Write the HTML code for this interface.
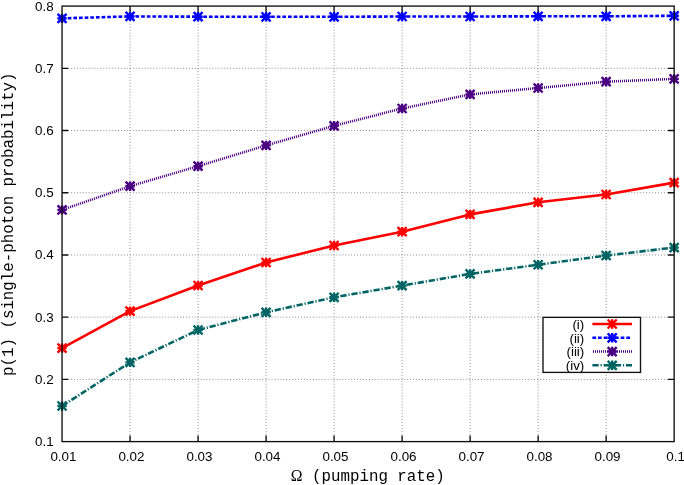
<!DOCTYPE html>
<html><head><meta charset="utf-8"><title>plot</title>
<style>
html,body{margin:0;padding:0;background:#fff;}
body{width:684px;height:485px;overflow:hidden;position:relative;font-family:"Liberation Sans",sans-serif;}
svg{position:absolute;left:0;top:0;display:block;will-change:transform;}
text{font-family:"Liberation Sans",sans-serif;font-size:13.4px;fill:#000;}
.mono{font-family:"Liberation Mono",monospace;font-size:15.8px;}
.ser{font-family:"Liberation Serif",serif;font-size:15.8px;}
</style></head><body>
<svg width="684" height="485" viewBox="0 0 684 485">
<rect x="0" y="0" width="684" height="485" fill="#ffffff"/>

<g stroke="#8c8c8c" stroke-width="1" stroke-dasharray="1 1.95" fill="none">
<path d="M130.06 6.10V441.60"/>
<path d="M198.07 6.10V441.60"/>
<path d="M266.08 6.10V441.60"/>
<path d="M334.09 6.10V441.60"/>
<path d="M402.11 6.10V441.60"/>
<path d="M470.12 6.10V441.60"/>
<path d="M538.13 6.10V441.60"/>
<path d="M606.14 6.10V441.60"/>
<path d="M62.05 68.31H674.15"/>
<path d="M62.05 130.53H674.15"/>
<path d="M62.05 192.74H674.15"/>
<path d="M62.05 254.96H674.15"/>
<path d="M62.05 317.17H674.15"/>
<path d="M62.05 379.39H674.15"/>
</g>
<text x="53.6" y="10.60" text-anchor="end">0.8</text>
<text x="53.6" y="72.81" text-anchor="end">0.7</text>
<text x="53.6" y="135.03" text-anchor="end">0.6</text>
<text x="53.6" y="197.24" text-anchor="end">0.5</text>
<text x="53.6" y="259.46" text-anchor="end">0.4</text>
<text x="53.6" y="321.67" text-anchor="end">0.3</text>
<text x="53.6" y="383.89" text-anchor="end">0.2</text>
<text x="53.6" y="446.10" text-anchor="end">0.1</text>
<text x="63.45" y="460.5" text-anchor="middle">0.01</text>
<text x="131.46" y="460.5" text-anchor="middle">0.02</text>
<text x="199.47" y="460.5" text-anchor="middle">0.03</text>
<text x="267.48" y="460.5" text-anchor="middle">0.04</text>
<text x="335.49" y="460.5" text-anchor="middle">0.05</text>
<text x="403.51" y="460.5" text-anchor="middle">0.06</text>
<text x="471.52" y="460.5" text-anchor="middle">0.07</text>
<text x="539.53" y="460.5" text-anchor="middle">0.08</text>
<text x="607.54" y="460.5" text-anchor="middle">0.09</text>
<text x="675.55" y="460.5" text-anchor="middle">0.1</text>
<text x="290.8" y="481" class="mono" style="white-space:pre"><tspan class="ser">&#937;</tspan> (pumping rate)</text>
<text class="mono" transform="translate(13.0 224.3) rotate(-90)" text-anchor="middle">p(1) (single-photon probability)</text>
<polyline points="62.05,348.10 130.06,311.10 198.07,285.50 266.08,262.50 334.09,245.50 402.11,231.70 470.12,214.40 538.13,202.30 606.14,194.50 674.15,182.60" fill="none" stroke="#ff0000" stroke-width="2.6" stroke-linejoin="round"/>
<path d="M57.55 343.60L66.55 352.60M57.55 352.60L66.55 343.60M62.05 343.40L62.05 352.80M57.35 348.10L66.75 348.10" stroke="#ff0000" stroke-width="2.4" stroke-linecap="butt" fill="none"/>
<path d="M125.56 306.60L134.56 315.60M125.56 315.60L134.56 306.60M130.06 306.40L130.06 315.80M125.36 311.10L134.76 311.10" stroke="#ff0000" stroke-width="2.4" stroke-linecap="butt" fill="none"/>
<path d="M193.57 281.00L202.57 290.00M193.57 290.00L202.57 281.00M198.07 280.80L198.07 290.20M193.37 285.50L202.77 285.50" stroke="#ff0000" stroke-width="2.4" stroke-linecap="butt" fill="none"/>
<path d="M261.58 258.00L270.58 267.00M261.58 267.00L270.58 258.00M266.08 257.80L266.08 267.20M261.38 262.50L270.78 262.50" stroke="#ff0000" stroke-width="2.4" stroke-linecap="butt" fill="none"/>
<path d="M329.59 241.00L338.59 250.00M329.59 250.00L338.59 241.00M334.09 240.80L334.09 250.20M329.39 245.50L338.79 245.50" stroke="#ff0000" stroke-width="2.4" stroke-linecap="butt" fill="none"/>
<path d="M397.61 227.20L406.61 236.20M397.61 236.20L406.61 227.20M402.11 227.00L402.11 236.40M397.41 231.70L406.81 231.70" stroke="#ff0000" stroke-width="2.4" stroke-linecap="butt" fill="none"/>
<path d="M465.62 209.90L474.62 218.90M465.62 218.90L474.62 209.90M470.12 209.70L470.12 219.10M465.42 214.40L474.82 214.40" stroke="#ff0000" stroke-width="2.4" stroke-linecap="butt" fill="none"/>
<path d="M533.63 197.80L542.63 206.80M533.63 206.80L542.63 197.80M538.13 197.60L538.13 207.00M533.43 202.30L542.83 202.30" stroke="#ff0000" stroke-width="2.4" stroke-linecap="butt" fill="none"/>
<path d="M601.64 190.00L610.64 199.00M601.64 199.00L610.64 190.00M606.14 189.80L606.14 199.20M601.44 194.50L610.84 194.50" stroke="#ff0000" stroke-width="2.4" stroke-linecap="butt" fill="none"/>
<path d="M669.65 178.10L678.65 187.10M669.65 187.10L678.65 178.10M674.15 177.90L674.15 187.30M669.45 182.60L678.85 182.60" stroke="#ff0000" stroke-width="2.4" stroke-linecap="butt" fill="none"/>
<polyline points="62.05,18.35 130.06,16.40 198.07,16.70 266.08,16.80 334.09,16.80 402.11,16.50 470.12,16.50 538.13,16.30 606.14,16.30 674.15,15.80" fill="none" stroke="#0000ff" stroke-width="2.6" stroke-linejoin="round" stroke-dasharray="3.7 1.95"/>
<path d="M57.55 13.85L66.55 22.85M57.55 22.85L66.55 13.85M62.05 13.65L62.05 23.05M57.35 18.35L66.75 18.35" stroke="#0000ff" stroke-width="2.4" stroke-linecap="butt" fill="none"/>
<path d="M125.56 11.90L134.56 20.90M125.56 20.90L134.56 11.90M130.06 11.70L130.06 21.10M125.36 16.40L134.76 16.40" stroke="#0000ff" stroke-width="2.4" stroke-linecap="butt" fill="none"/>
<path d="M193.57 12.20L202.57 21.20M193.57 21.20L202.57 12.20M198.07 12.00L198.07 21.40M193.37 16.70L202.77 16.70" stroke="#0000ff" stroke-width="2.4" stroke-linecap="butt" fill="none"/>
<path d="M261.58 12.30L270.58 21.30M261.58 21.30L270.58 12.30M266.08 12.10L266.08 21.50M261.38 16.80L270.78 16.80" stroke="#0000ff" stroke-width="2.4" stroke-linecap="butt" fill="none"/>
<path d="M329.59 12.30L338.59 21.30M329.59 21.30L338.59 12.30M334.09 12.10L334.09 21.50M329.39 16.80L338.79 16.80" stroke="#0000ff" stroke-width="2.4" stroke-linecap="butt" fill="none"/>
<path d="M397.61 12.00L406.61 21.00M397.61 21.00L406.61 12.00M402.11 11.80L402.11 21.20M397.41 16.50L406.81 16.50" stroke="#0000ff" stroke-width="2.4" stroke-linecap="butt" fill="none"/>
<path d="M465.62 12.00L474.62 21.00M465.62 21.00L474.62 12.00M470.12 11.80L470.12 21.20M465.42 16.50L474.82 16.50" stroke="#0000ff" stroke-width="2.4" stroke-linecap="butt" fill="none"/>
<path d="M533.63 11.80L542.63 20.80M533.63 20.80L542.63 11.80M538.13 11.60L538.13 21.00M533.43 16.30L542.83 16.30" stroke="#0000ff" stroke-width="2.4" stroke-linecap="butt" fill="none"/>
<path d="M601.64 11.80L610.64 20.80M601.64 20.80L610.64 11.80M606.14 11.60L606.14 21.00M601.44 16.30L610.84 16.30" stroke="#0000ff" stroke-width="2.4" stroke-linecap="butt" fill="none"/>
<path d="M669.65 11.30L678.65 20.30M669.65 20.30L678.65 11.30M674.15 11.10L674.15 20.50M669.45 15.80L678.85 15.80" stroke="#0000ff" stroke-width="2.4" stroke-linecap="butt" fill="none"/>
<line x1="62.05" y1="209.90" x2="130.06" y2="186.20" stroke="#4b0082" stroke-width="2.6" stroke-dasharray="1.0590 1.0590" stroke-dashoffset="0.0529"/>
<line x1="130.06" y1="186.20" x2="198.07" y2="166.20" stroke="#4b0082" stroke-width="2.6" stroke-dasharray="1.0423 1.0423" stroke-dashoffset="0.0637"/>
<line x1="198.07" y1="166.20" x2="266.08" y2="145.40" stroke="#4b0082" stroke-width="2.6" stroke-dasharray="1.0457 1.0457" stroke-dashoffset="0.0755"/>
<line x1="266.08" y1="145.40" x2="334.09" y2="125.80" stroke="#4b0082" stroke-width="2.6" stroke-dasharray="1.0407 1.0407" stroke-dashoffset="0.0867"/>
<line x1="334.09" y1="125.80" x2="402.11" y2="108.50" stroke="#4b0082" stroke-width="2.6" stroke-dasharray="1.0318 1.0318" stroke-dashoffset="0.0975"/>
<line x1="402.11" y1="108.50" x2="470.12" y2="94.40" stroke="#4b0082" stroke-width="2.6" stroke-dasharray="1.0213 1.0213" stroke-dashoffset="0.1078"/>
<line x1="470.12" y1="94.40" x2="538.13" y2="88.00" stroke="#4b0082" stroke-width="2.6" stroke-dasharray="1.0044 1.0044" stroke-dashoffset="0.1172"/>
<line x1="538.13" y1="88.00" x2="606.14" y2="81.70" stroke="#4b0082" stroke-width="2.6" stroke-dasharray="1.0043 1.0043" stroke-dashoffset="0.1283"/>
<line x1="606.14" y1="81.70" x2="674.15" y2="78.90" stroke="#4b0082" stroke-width="2.6" stroke-dasharray="1.0008 1.0008" stroke-dashoffset="0.1390"/>
<path d="M57.55 205.40L66.55 214.40M57.55 214.40L66.55 205.40M62.05 205.20L62.05 214.60M57.35 209.90L66.75 209.90" stroke="#4b0082" stroke-width="2.4" stroke-linecap="butt" fill="none"/>
<path d="M125.56 181.70L134.56 190.70M125.56 190.70L134.56 181.70M130.06 181.50L130.06 190.90M125.36 186.20L134.76 186.20" stroke="#4b0082" stroke-width="2.4" stroke-linecap="butt" fill="none"/>
<path d="M193.57 161.70L202.57 170.70M193.57 170.70L202.57 161.70M198.07 161.50L198.07 170.90M193.37 166.20L202.77 166.20" stroke="#4b0082" stroke-width="2.4" stroke-linecap="butt" fill="none"/>
<path d="M261.58 140.90L270.58 149.90M261.58 149.90L270.58 140.90M266.08 140.70L266.08 150.10M261.38 145.40L270.78 145.40" stroke="#4b0082" stroke-width="2.4" stroke-linecap="butt" fill="none"/>
<path d="M329.59 121.30L338.59 130.30M329.59 130.30L338.59 121.30M334.09 121.10L334.09 130.50M329.39 125.80L338.79 125.80" stroke="#4b0082" stroke-width="2.4" stroke-linecap="butt" fill="none"/>
<path d="M397.61 104.00L406.61 113.00M397.61 113.00L406.61 104.00M402.11 103.80L402.11 113.20M397.41 108.50L406.81 108.50" stroke="#4b0082" stroke-width="2.4" stroke-linecap="butt" fill="none"/>
<path d="M465.62 89.90L474.62 98.90M465.62 98.90L474.62 89.90M470.12 89.70L470.12 99.10M465.42 94.40L474.82 94.40" stroke="#4b0082" stroke-width="2.4" stroke-linecap="butt" fill="none"/>
<path d="M533.63 83.50L542.63 92.50M533.63 92.50L542.63 83.50M538.13 83.30L538.13 92.70M533.43 88.00L542.83 88.00" stroke="#4b0082" stroke-width="2.4" stroke-linecap="butt" fill="none"/>
<path d="M601.64 77.20L610.64 86.20M601.64 86.20L610.64 77.20M606.14 77.00L606.14 86.40M601.44 81.70L610.84 81.70" stroke="#4b0082" stroke-width="2.4" stroke-linecap="butt" fill="none"/>
<path d="M669.65 74.40L678.65 83.40M669.65 83.40L678.65 74.40M674.15 74.20L674.15 83.60M669.45 78.90L678.85 78.90" stroke="#4b0082" stroke-width="2.4" stroke-linecap="butt" fill="none"/>
<polyline points="62.05,406.00 130.06,362.40 198.07,330.00 266.08,312.30 334.09,297.30 402.11,285.60 470.12,273.90 538.13,264.75 606.14,255.50 674.15,247.60" fill="none" stroke="#006464" stroke-width="2.6" stroke-linejoin="round" stroke-dasharray="6.3 1.85 1.2 1.85"/>
<path d="M57.55 401.50L66.55 410.50M57.55 410.50L66.55 401.50M62.05 401.30L62.05 410.70M57.35 406.00L66.75 406.00" stroke="#006464" stroke-width="2.4" stroke-linecap="butt" fill="none"/>
<path d="M125.56 357.90L134.56 366.90M125.56 366.90L134.56 357.90M130.06 357.70L130.06 367.10M125.36 362.40L134.76 362.40" stroke="#006464" stroke-width="2.4" stroke-linecap="butt" fill="none"/>
<path d="M193.57 325.50L202.57 334.50M193.57 334.50L202.57 325.50M198.07 325.30L198.07 334.70M193.37 330.00L202.77 330.00" stroke="#006464" stroke-width="2.4" stroke-linecap="butt" fill="none"/>
<path d="M261.58 307.80L270.58 316.80M261.58 316.80L270.58 307.80M266.08 307.60L266.08 317.00M261.38 312.30L270.78 312.30" stroke="#006464" stroke-width="2.4" stroke-linecap="butt" fill="none"/>
<path d="M329.59 292.80L338.59 301.80M329.59 301.80L338.59 292.80M334.09 292.60L334.09 302.00M329.39 297.30L338.79 297.30" stroke="#006464" stroke-width="2.4" stroke-linecap="butt" fill="none"/>
<path d="M397.61 281.10L406.61 290.10M397.61 290.10L406.61 281.10M402.11 280.90L402.11 290.30M397.41 285.60L406.81 285.60" stroke="#006464" stroke-width="2.4" stroke-linecap="butt" fill="none"/>
<path d="M465.62 269.40L474.62 278.40M465.62 278.40L474.62 269.40M470.12 269.20L470.12 278.60M465.42 273.90L474.82 273.90" stroke="#006464" stroke-width="2.4" stroke-linecap="butt" fill="none"/>
<path d="M533.63 260.25L542.63 269.25M533.63 269.25L542.63 260.25M538.13 260.05L538.13 269.45M533.43 264.75L542.83 264.75" stroke="#006464" stroke-width="2.4" stroke-linecap="butt" fill="none"/>
<path d="M601.64 251.00L610.64 260.00M601.64 260.00L610.64 251.00M606.14 250.80L606.14 260.20M601.44 255.50L610.84 255.50" stroke="#006464" stroke-width="2.4" stroke-linecap="butt" fill="none"/>
<path d="M669.65 243.10L678.65 252.10M669.65 252.10L678.65 243.10M674.15 242.90L674.15 252.30M669.45 247.60L678.85 247.60" stroke="#006464" stroke-width="2.4" stroke-linecap="butt" fill="none"/>
<g stroke="#101010" stroke-width="1.35" fill="none">
<path d="M130.06 6.10v6.2M130.06 441.60v-6.2"/>
<path d="M198.07 6.10v6.2M198.07 441.60v-6.2"/>
<path d="M266.08 6.10v6.2M266.08 441.60v-6.2"/>
<path d="M334.09 6.10v6.2M334.09 441.60v-6.2"/>
<path d="M402.11 6.10v6.2M402.11 441.60v-6.2"/>
<path d="M470.12 6.10v6.2M470.12 441.60v-6.2"/>
<path d="M538.13 6.10v6.2M538.13 441.60v-6.2"/>
<path d="M606.14 6.10v6.2M606.14 441.60v-6.2"/>
<path d="M62.05 68.31h6.2M674.15 68.31h-6.2"/>
<path d="M62.05 130.53h6.2M674.15 130.53h-6.2"/>
<path d="M62.05 192.74h6.2M674.15 192.74h-6.2"/>
<path d="M62.05 254.96h6.2M674.15 254.96h-6.2"/>
<path d="M62.05 317.17h6.2M674.15 317.17h-6.2"/>
<path d="M62.05 379.39h6.2M674.15 379.39h-6.2"/>
<rect x="62.05" y="6.1" width="612.10" height="435.50"/>
</g>
<rect x="542.3" y="316.4" width="98.9" height="56.7" fill="#fff"/>
<rect x="543.0" y="317.35" width="97.5" height="55.05" fill="#fff" stroke="#101010" stroke-width="1.35"/>
<text x="584.3" y="328.70" text-anchor="end">(i)</text>
<path d="M592.4 324.00H632" fill="none" stroke="#ff0000" stroke-width="2.6"/>
<path d="M607.70 319.50L616.70 328.50M607.70 328.50L616.70 319.50M612.20 319.30L612.20 328.70M607.50 324.00L616.90 324.00" stroke="#ff0000" stroke-width="2.4" stroke-linecap="butt" fill="none"/>
<text x="584.3" y="342.50" text-anchor="end">(ii)</text>
<path d="M592.4 337.80H632" fill="none" stroke="#0000ff" stroke-width="2.6" stroke-dasharray="3.7 1.95"/>
<path d="M607.70 333.30L616.70 342.30M607.70 342.30L616.70 333.30M612.20 333.10L612.20 342.50M607.50 337.80L616.90 337.80" stroke="#0000ff" stroke-width="2.4" stroke-linecap="butt" fill="none"/>
<text x="584.3" y="356.25" text-anchor="end">(iii)</text>
<path d="M592.4 351.55H632" fill="none" stroke="#4b0082" stroke-width="2.6" stroke-dasharray="1 1" stroke-dashoffset="1.4"/>
<path d="M607.70 347.05L616.70 356.05M607.70 356.05L616.70 347.05M612.20 346.85L612.20 356.25M607.50 351.55L616.90 351.55" stroke="#4b0082" stroke-width="2.4" stroke-linecap="butt" fill="none"/>
<text x="584.3" y="370.00" text-anchor="end">(iv)</text>
<path d="M592.4 365.30H632" fill="none" stroke="#006464" stroke-width="2.6" stroke-dasharray="6.3 1.85 1.2 1.85"/>
<path d="M607.70 360.80L616.70 369.80M607.70 369.80L616.70 360.80M612.20 360.60L612.20 370.00M607.50 365.30L616.90 365.30" stroke="#006464" stroke-width="2.4" stroke-linecap="butt" fill="none"/>
</svg></body></html>
